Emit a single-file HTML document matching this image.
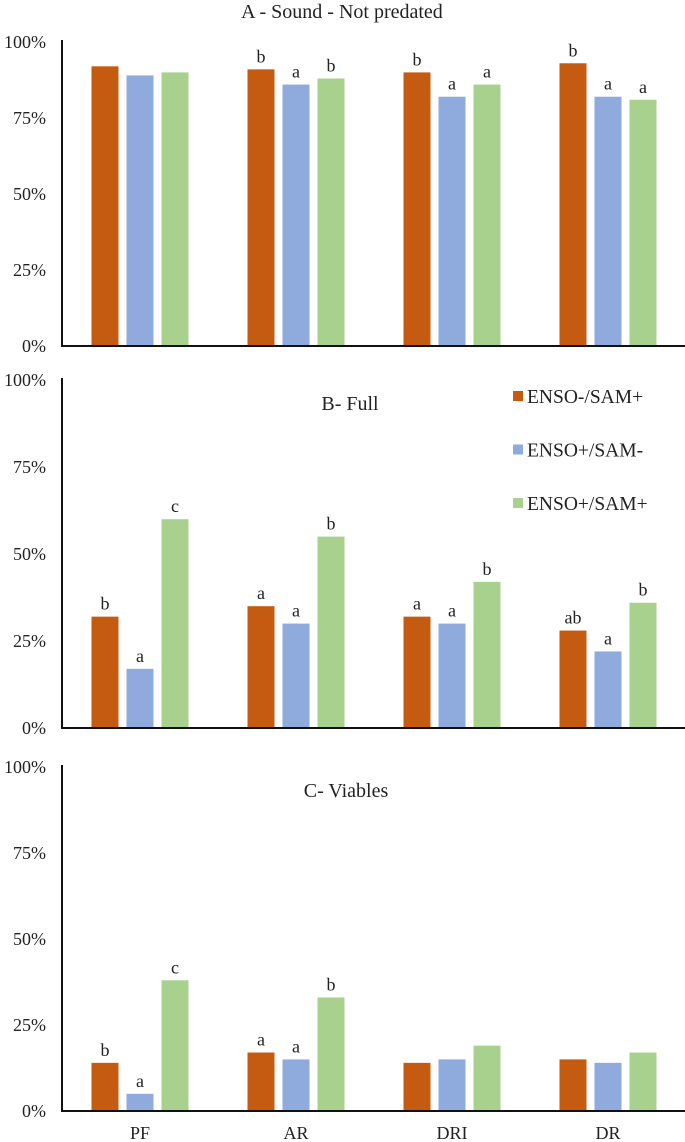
<!DOCTYPE html>
<html><head><meta charset="utf-8">
<style>
html,body{margin:0;padding:0;background:#fff;}
svg{display:block;font-family:"Liberation Serif",serif;}
</style></head>
<body>
<svg id="chart" width="685" height="1142" viewBox="0 0 685 1142" xmlns="http://www.w3.org/2000/svg"></svg>
<script>
const categories = ["PF","AR","DRI","DR"];
const seriesNames = ["ENSO-/SAM+","ENSO+/SAM-","ENSO+/SAM+"];
const tickLabels = ["0%","25%","50%","75%","100%"];
const tickValues = [0,25,50,75,100];
const panelTitles = ["A - Sound - Not predated","B- Full","C- Viables"];
const valuesA = [[92,91,90,93],[89,86,82,82],[90,88,86,81]];
const valuesB = [[32,35,32,28],[17,30,30,22],[60,55,42,36]];
const valuesC = [[14,17,14,15],[5,15,15,14],[38,33,19,17]];
const lettersA = [["","b","b","b"],["","a","a","a"],["","b","a","a"]];
const lettersB = [["b","a","a","ab"],["a","a","a","a"],["c","b","b","b"]];
const lettersC = [["b","a","",""],["a","a","",""],["c","b","",""]];

const colors = ["#C55A11","#8FAADC","#A9D18E"];
const svg = document.getElementById('chart');
const NS = "http://www.w3.org/2000/svg";
function mk(tag, attrs, parent){
  const e = document.createElementNS(NS, tag);
  for (const k in attrs) e.setAttribute(k, attrs[k]);
  (parent||svg).appendChild(e);
  return e;
}
const x0 = 62, band = 156;
function xCenter(i){ return x0 + band*i + band/2; }
const panels = [
  {top:42, base:346, vals:valuesA, lets:lettersA, title:panelTitles[0], tx:342, ty:18, name:"panel-a"},
  {top:380, base:728, vals:valuesB, lets:lettersB, title:panelTitles[1], tx:350, ty:410, name:"panel-b"},
  {top:767, base:1111, vals:valuesC, lets:lettersC, title:panelTitles[2], tx:346, ty:797, name:"panel-c"}
];
panels.forEach((p, pi) => {
  const g = mk('g', {});
  
  
  const y = v => p.base - (p.base - p.top) * v / 100;
  const t = mk('text', {x:p.tx, y:p.ty, 'text-anchor':'middle', 'font-size':20, fill:'#222'}, g);
  t.textContent = p.title;
  
  
  tickValues.forEach((tv, ti) => {
    const tl = mk('text', {x:46, y:y(tv)+6, 'text-anchor':'end', 'font-size':18, fill:'#222'}, g);
    tl.textContent = tickLabels[ti];
    
    
  });
  for (let s = 0; s < 3; s++) {
    for (let c = 0; c < categories.length; c++) {
      const v = p.vals[s][c];
      const cx = xCenter(c) + (s-1)*35;
      const r = mk('rect', {x:cx-13.5, y:y(v), width:27, height:p.base - y(v), fill:colors[s]}, g);
      
      
      const L = p.lets[s][c];
      if (L) {
        const lt = mk('text', {x:cx, y:y(v)-7, 'text-anchor':'middle', 'font-size':18, fill:'#222'}, g);
        lt.textContent = L;
        
        
      }
    }
  }
  const ya = mk('line', {x1:x0, y1:p.top-2, x2:x0, y2:p.base, stroke:'#111', 'stroke-width':2}, g);
  
  
  const xa = mk('line', {x1:x0-1, y1:p.base, x2:685, y2:p.base, stroke:'#111', 'stroke-width':2}, g);
  
  
});
categories.forEach((c, i) => {
  const t = mk('text', {x:xCenter(i), y:1139, 'text-anchor':'middle', 'font-size':18, fill:'#222'});
  t.textContent = c;
  
  
});
const lg = mk('g', {});


seriesNames.forEach((n, i) => {
  const cy = 396 + i*53.5;
  const sq = mk('rect', {x:513, y:cy-5, width:10, height:10, fill:colors[i]}, lg);
  
  
  const t = mk('text', {x:527, y:cy+7, 'font-size':19.5, fill:'#222'}, lg);
  t.textContent = n;
  
  
});
</script>
</body></html>
